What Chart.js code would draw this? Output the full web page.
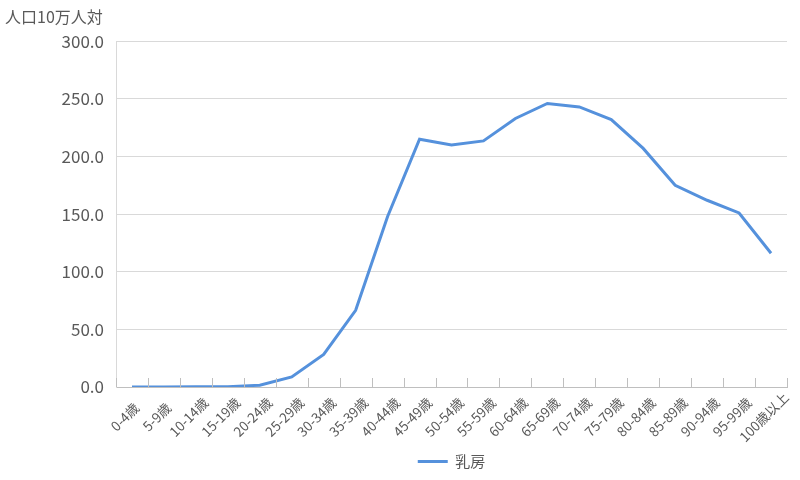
<!DOCTYPE html>
<html>
<head>
<meta charset="utf-8">
<script src="https://cdn.jsdelivr.net/npm/chart.js@4"></script>
<style>
  html, body { margin: 0; padding: 0; background: #fff; }
  #wrap { width: 800px; height: 480px; }
</style>
</head>
<body>
<div id="wrap"><canvas id="grafico"></canvas></div>
<script>
const categorie = ["0-4歳", "5-9歳", "10-14歳", "15-19歳", "20-24歳", "25-29歳", "30-34歳",
  "35-39歳", "40-44歳", "45-49歳", "50-54歳", "55-59歳", "60-64歳", "65-69歳", "70-74歳",
  "75-79歳", "80-84歳", "85-89歳", "90-94歳", "95-99歳", "100歳以上"];
const nyuubou = [0.0, 0.0, 0.2, 0.3, 1.6, 8.7, 28.3, 66.5, 148.0, 215.0, 210.0, 213.5,
  233.0, 246.0, 243.0, 232.0, 207.0, 175.0, 162.0, 151.0, 116.0];
const yMin = 0, yMax = 300, yStep = 50;

const FONT = "'Noto Sans CJK JP', 'Noto Sans', sans-serif";
const GRIGIO = "#595959";

const asse = {
  id: "asse",
  afterLayout(chart) {
    // centre the legend under the plot area, not the whole canvas
    const lg = chart.legend;
    if (lg) {
      lg.left = chart.chartArea.left;
      lg.right = chart.chartArea.right;
      lg.width = lg.right - lg.left;
    }
  },
  afterDraw(chart) {
    const x = chart.scales.x;
    const ctx = chart.ctx;
    const n = chart.data.labels.length;
    const passo = (x.right - x.left) / n;
    ctx.save();
    // tick marks pointing up into the plot
    ctx.strokeStyle = "#bfbfbf";
    ctx.lineWidth = 1;
    ctx.beginPath();
    for (let i = 0; i <= n; i++) {
      const px = Math.round(x.left + i * passo) + 0.5;
      ctx.moveTo(px, x.top);
      ctx.lineTo(px, x.top - 9);
    }
    ctx.stroke();
    // rotated labels, centred on their anchor like the spreadsheet does
    ctx.fillStyle = GRIGIO;
    ctx.font = "13.5px " + FONT;
    ctx.textAlign = "center";
    ctx.textBaseline = "middle";
    chart.data.labels.forEach((lab, i) => {
      const px = x.getPixelForTick(i);
      ctx.save();
      ctx.translate(px - 7, x.top + 30);
      ctx.rotate(-Math.PI / 4);
      ctx.fillText(lab, 0, 0);
      ctx.restore();
    });
    ctx.restore();
  }
};

const ctx = document.getElementById("grafico").getContext("2d");
new Chart(ctx, {
  type: "line",
  data: {
    labels: categorie,
    datasets: [{
      label: "乳房",
      data: nyuubou,
      borderColor: "#5591dc",
      backgroundColor: "#5591dc",
      borderWidth: 3,
      pointRadius: 0,
      tension: 0,
      fill: false
    }]
  },
  options: {
    responsive: true,
    maintainAspectRatio: false,
    animation: false,
    layout: { padding: { left: 5, right: 13, top: 7, bottom: 1 } },
    plugins: {
      title: {
        display: true,
        text: "人口10万人対",
        align: "start",
        color: GRIGIO,
        font: { family: FONT, size: 16, weight: "normal" },
        padding: { top: 0, bottom: 15 }
      },
      legend: {
        position: "bottom",
        labels: {
          color: GRIGIO,
          font: { family: FONT, size: 15 },
          usePointStyle: true,
          pointStyle: "line",
          pointStyleWidth: 30,
          boxHeight: 14,
          padding: 10
        }
      },
      tooltip: { enabled: false }
    },
    scales: {
      x: {
        offset: true,
        grid: { display: false },
        border: { display: true, color: "#bfbfbf", width: 1 },
        ticks: { display: false, autoSkip: false },
        afterFit: s => { s.height = 57; }
      },
      y: {
        min: yMin,
        max: yMax,
        grid: { color: "#d9d9d9", drawTicks: false },
        border: { display: true, color: "#d9d9d9" },
        ticks: {
          stepSize: yStep,
          color: GRIGIO,
          font: { family: FONT, size: 17 },
          padding: 12,
          callback: v => v.toFixed(1)
        },
        afterFit: s => { s.width = 111; }
      }
    }
  },
  plugins: [asse]
});
</script>
</body>
</html>
